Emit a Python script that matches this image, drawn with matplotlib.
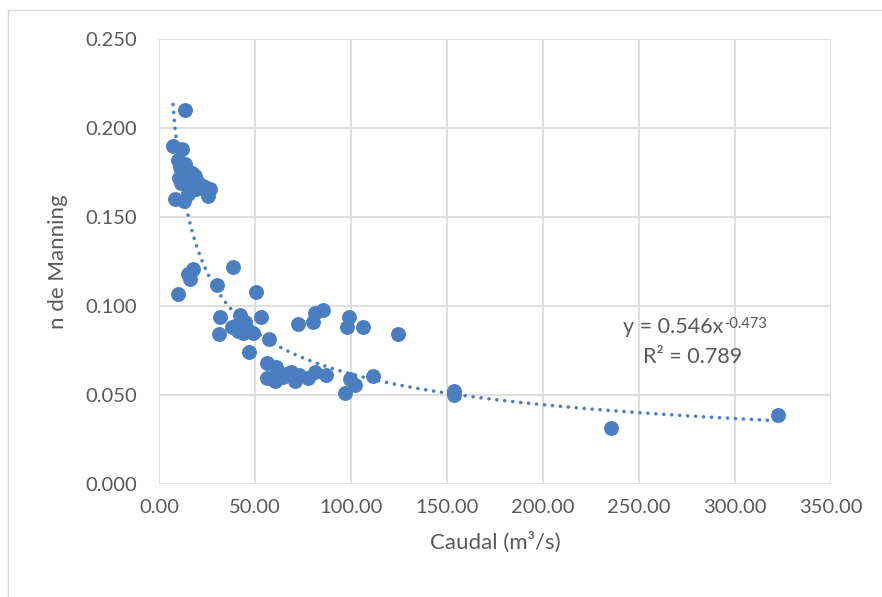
import numpy as np
import matplotlib.pyplot as plt
from matplotlib.patches import Rectangle
from matplotlib.ticker import FormatStrFormatter

# caudal (m3/s) y n de Manning
caudal = [13.5, 7.5, 12.0, 10.0, 13.5, 11.0, 10.5, 12.0, 15.0, 17.0, 19.0, 14.0, 16.0,
          18.0, 20.0, 22.0, 24.0, 26.5, 25.5, 8.5, 13.0, 15.0, 17.0, 19.5, 11.5, 14.5,
          9.9, 15.3, 16.3, 17.9, 30.2, 38.5, 50.5, 31.8, 31.2, 42.0, 53.0, 39.6, 41.0,
          43.8, 49.0, 46.0, 45.0, 38.0, 57.3, 47.0, 56.0,
          56.0, 61.0, 60.4, 64.6, 69.0, 71.0, 66.0, 73.0, 77.6, 81.0, 87.0, 99.5, 102.0,
          97.0, 111.5, 72.4, 80.0, 81.0, 85.4, 99.0, 98.0, 106.0, 124.5, 153.6, 153.8,
          235.4, 322.4]
n_manning = [0.210, 0.190, 0.188, 0.182, 0.180, 0.178, 0.172, 0.175, 0.176, 0.175, 0.173,
             0.170, 0.168, 0.171, 0.170, 0.168, 0.167, 0.166, 0.162, 0.160, 0.159, 0.163,
             0.165, 0.166, 0.169, 0.173,
             0.107, 0.118, 0.115, 0.121, 0.112, 0.122, 0.108, 0.094, 0.084, 0.095, 0.094,
             0.089, 0.086, 0.085, 0.085, 0.087, 0.091, 0.088, 0.0815, 0.074, 0.068,
             0.0596, 0.066, 0.058, 0.060, 0.063, 0.058, 0.062, 0.061, 0.0595, 0.063, 0.061,
             0.059, 0.0556, 0.051, 0.0605, 0.090, 0.091, 0.096, 0.098, 0.094, 0.088, 0.088,
             0.084, 0.052, 0.050, 0.0315, 0.039]

# ajuste potencial mostrado en el grafico
coef_a = 0.546
coef_b = -0.473

azul = '#4A7EC0'
gris_txt = '#595959'
gris_grid = '#D9D9D9'

plt.rcParams['font.family'] = ['Lato', 'DejaVu Sans']

fig = plt.figure(figsize=(8.82, 5.97), dpi=100)
fig.patches.append(Rectangle((8 / 882, -0.1), 1.2, 1.1 - 10 / 597, transform=fig.transFigure,
                             fill=False, edgecolor=gris_grid, linewidth=1))
ax = fig.add_axes([159 / 882, 1 - 484 / 597, (831 - 159) / 882, (484 - 39) / 597])

ax.scatter(caudal, n_manning, s=115, color=azul, zorder=3, linewidths=0)

xt = np.linspace(7.3, max(caudal), 300)
ax.plot(xt, coef_a * xt ** coef_b, color=azul, linewidth=2.6,
        linestyle=(0, (0.01, 2.2)), dash_capstyle='round', zorder=2)

ax.set_xlim(0, 350)
ax.set_ylim(0, 0.25)
ax.set_xticks(np.arange(0, 351, 50))
ax.set_yticks(np.arange(0, 0.251, 0.05))
ax.xaxis.set_major_formatter(FormatStrFormatter('%.2f'))
ax.yaxis.set_major_formatter(FormatStrFormatter('%.3f'))
ax.grid(True, color=gris_grid, linewidth=1.2)
ax.set_axisbelow(True)
for s in ax.spines.values():
    s.set_visible(False)
ax.tick_params(length=0, labelsize=14.5, labelcolor=gris_txt)
ax.tick_params(axis='y', pad=16)
ax.tick_params(axis='x', pad=11)

ax.set_xlabel('Caudal (m³/s)', fontsize=16, color=gris_txt, labelpad=11)
ax.set_ylabel('n de Manning', fontsize=16, color=gris_txt, labelpad=12)

t = ax.text(241.7, 0.0848, 'y = 0.546x', fontsize=15.5, color=gris_txt, ha='left', va='baseline')
ax.annotate('-0.473', xy=(1, 0), xycoords=t, xytext=(0.5, 6.5), textcoords='offset points',
            fontsize=10.5, color=gris_txt, ha='left', va='baseline')
ax.text(252, 0.068, 'R² = 0.789', fontsize=15.5, color=gris_txt, ha='left', va='baseline')

fig.savefig('out.png', dpi=100)
